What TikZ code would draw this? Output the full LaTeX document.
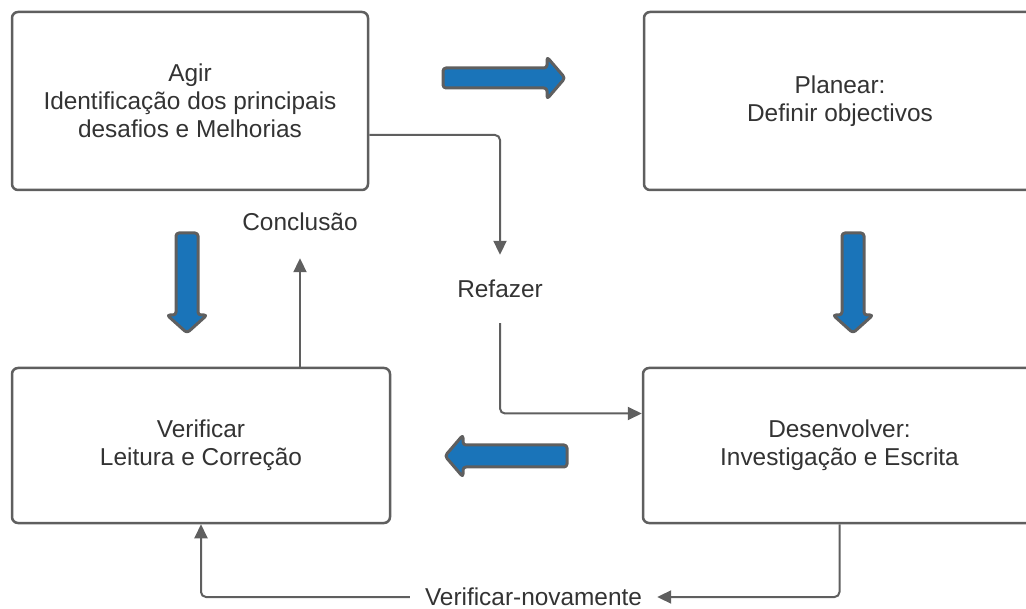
\documentclass[tikz,border=0pt]{standalone}
\usepackage{fontspec}
\setmainfont{Liberation Sans}
\usetikzlibrary{arrows.meta}

\definecolor{linegray}{HTML}{5F5F5F}
\definecolor{txtgray}{HTML}{333333}
\definecolor{flowblue}{HTML}{1A74B9}

\tikzset{
	box/.style={draw=linegray, line width=2.5pt, rounded corners=6pt, fill=white,
		align=center, text=txtgray, font=\fontsize{24.4}{28}\selectfont},
	lbl/.style={text=txtgray, font=\fontsize{24.4}{28}\selectfont},
	link/.style={draw=linegray, line width=2pt, rounded corners=5pt,
		-{Triangle[length=14pt,width=13pt]}},
	fat/.style={fill=flowblue, draw=linegray, line width=3pt, rounded corners=3pt, line join=round}
}

\begin{document}
\begin{tikzpicture}[x=1pt,y=-1pt]
		\useasboundingbox (0,0) rectangle (1026,609);
		\clip (0,0) rectangle (1026,609);

		% the four steps
		\node[box, minimum width=356pt, minimum height=178pt] (agir) at (190,101)
			{Agir\\Identificação dos principais\\desafios e Melhorias};
		\node[box, minimum width=392pt, minimum height=178pt] (planear) at (840,101)
			{Planear:\\Definir objectivos};
		\node[box, minimum width=378pt, minimum height=155pt] (verif) at (201,445.5)
			{Verificar\\Leitura e Correção};
		\node[box, minimum width=393pt, minimum height=155pt] (desenv) at (839.5,445.5)
			{Desenvolver:\\Investigação e Escrita};

		% labels on the links
		\node[lbl, minimum height=68pt] (refazer) at (500,289) {Refazer};
		\node[lbl, minimum height=72pt] (concl) at (300,222) {Conclusão};
		\node[lbl, minimum width=247pt] (novamente) at (533.5,597) {Verificar-novamente};

		% links
		\draw[link] ([yshift=-34pt]agir.east) -| (refazer.north);
		\draw[link] (refazer.south) |- ([yshift=32pt]desenv.west);
		\draw[link] (concl.south |- verif.north) -- (concl.south);
		\draw[link] (desenv.south) |- (novamente.east);
		\draw[link] (novamente.west) -| (verif.south);

		% big blue arrows of the cycle
		\draw[fat] (443,68) -- (547,68) -- (547,57) -- (565,78) -- (547,99) -- (547,88) -- (443,88) -- cycle;
		\draw[fat] (842,233) -- (864,233) -- (864,315) -- (873,315) -- (853,333) -- (833,315) -- (842,315) -- cycle;
		\draw[fat] (567,445) -- (463,445) -- (463,435) -- (445,456) -- (463,477) -- (463,467) -- (567,467) -- cycle;
		\draw[fat] (176,233) -- (198,233) -- (198,315) -- (207,315) -- (187,333) -- (167,315) -- (176,315) -- cycle;
\end{tikzpicture}
\end{document}
